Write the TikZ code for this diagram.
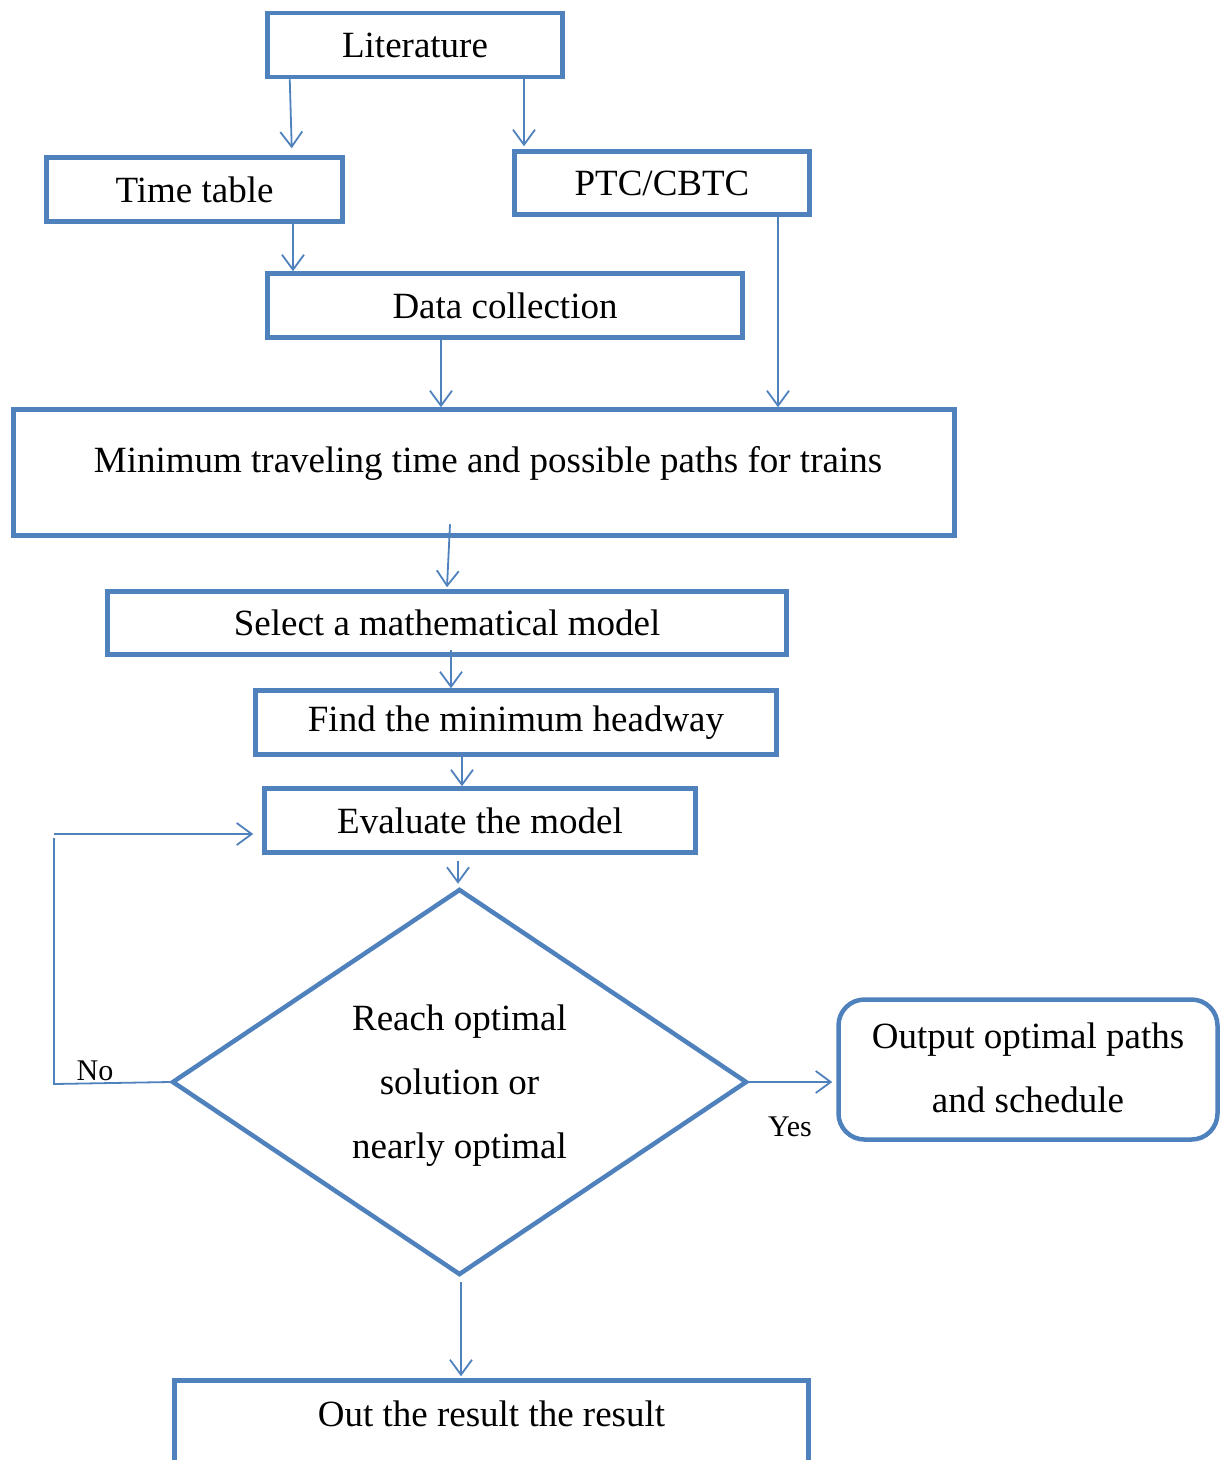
\documentclass[tikz,border=0pt]{standalone}
\usepackage{fontspec}
\setmainfont{Liberation Serif}
\usetikzlibrary{arrows.meta,shapes.geometric}
\definecolor{flowblue}{RGB}{79,129,189}
\tikzset{
  box/.style={draw=flowblue, line width=4.5pt, rectangle, inner sep=0pt,
    font=\fontsize{37pt}{64pt}\selectfont, align=center},
  rbox/.style={box, rounded corners=26pt},
  decision/.style={draw=flowblue, line width=4.5pt, diamond, inner sep=0pt,
    minimum width=575pt, minimum height=386pt, aspect=1.5,
    font=\fontsize{37pt}{64pt}\selectfont, align=center},
  bigtext/.style={font=\fontsize{37pt}{44pt}\selectfont, inner sep=0pt},
  small/.style={font=\fontsize{30pt}{36pt}\selectfont, inner sep=0pt},
  arr/.style={draw=flowblue, line width=1.8pt,
    -{Straight Barb[length=15pt,width=22pt,line width=1.8pt]}},
  link/.style={draw=flowblue, line width=1.8pt}
}
\begin{document}
\begin{tikzpicture}[x=1pt,y=-1pt]
\useasboundingbox (0,0) rectangle (1223,1460);
\clip (0,0) rectangle (1223,1460);

% boxes
\node[box, minimum width=295pt, minimum height=64pt] (lit) at (415,45) {Literature};
\node[box, minimum width=296pt, minimum height=64pt] (tt) at (194.5,189.5) {Time table};
\node[box, minimum width=295pt, minimum height=63pt] (ptc) at (662,183) {PTC/CBTC};
\node[box, minimum width=475pt, minimum height=64pt] (data) at (505,305.5) {Data collection};
\node[box, minimum width=941pt, minimum height=126pt] (min) at (484,472.5) {};
\node[bigtext] (mintext) at (488,463) {Minimum traveling time and possible paths for trains};
\node[box, minimum width=679pt, minimum height=63pt] (sel) at (447,623) {Select a mathematical model};
\node[box, minimum width=521pt, minimum height=64pt] (find) at (516,722.5) {Find the minimum headway};
\node[box, minimum width=431pt, minimum height=64pt] (eval) at (480,820.5) {Evaluate the model};
\node[decision, text depth=-8pt] (dia) at (459.5,1082) {Reach optimal\\solution or\\nearly optimal};
\node[rbox, text depth=3pt, minimum width=379pt, minimum height=140pt] (out) at (1028,1069.5) {Output optimal paths\\and schedule};
\node[box, minimum width=634pt, minimum height=160pt] (res) at (491.5,1460.5) {};
\node[bigtext] (restext) at (491.5,1414) {Out the result the result};

% connectors
\draw[arr] ([xshift=24.5pt]lit.south west) -- ([xshift=247.5pt,yshift=7pt]tt.north west);
\draw[arr] ([xshift=-138pt]lit.south -| ptc.north) -- ([xshift=-138pt,yshift=3pt]ptc.north);
\draw[arr] ([xshift=98.5pt]tt.south) -- ([xshift=-212pt]data.north);
\draw[arr] ([xshift=116pt]ptc.south) -- ([xshift=294pt]min.north);
\draw[arr] ([xshift=-64pt]data.south) -- ([xshift=-43pt]min.north);
\draw[arr] ([xshift=-34pt,yshift=13.5pt]min.south) -- ([yshift=2pt]sel.north);
\draw[arr] ([xshift=4pt,yshift=7pt]sel.south) -- ([xshift=-65pt]find.north);
\draw[arr] ([xshift=-54pt]find.south) -- ([xshift=-18pt]eval.north);
\draw[arr] ([xshift=-22pt,yshift=-6pt]eval.south) -- ([xshift=-1.5pt,yshift=3pt]dia.north);
\draw[arr] ([xshift=1.5pt,yshift=-5pt]dia.south) -- ([xshift=-30.5pt,yshift=2pt]res.north);
\draw[arr] (dia.east) -- ([xshift=-4pt]dia.east -| out.west);

% feedback loop
\coordinate (nocorner) at (54,1084);
\coordinate (noturn) at (54,838);
\draw[link] (dia.west) -- (nocorner) -- (noturn);
\draw[arr] (noturn |- 0,834) -- ([xshift=-9pt,yshift=-13.5pt]eval.west);

% branch labels
\node[small] (nolab) at (95,1071) {No};
\node[small] (yeslab) at (790,1127) {Yes};
\end{tikzpicture}
\end{document}
